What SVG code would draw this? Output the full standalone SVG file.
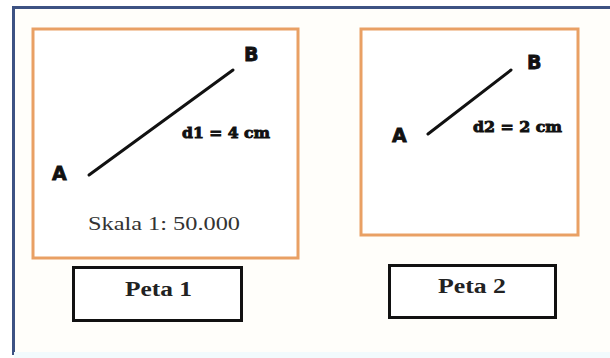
<svg xmlns="http://www.w3.org/2000/svg" width="610" height="358" viewBox="0 0 610 358">
<style>
.map{fill:#ffffff;stroke:#e9a064;stroke-width:3}
.lbl{fill:#ffffff;stroke:#111111;stroke-width:3}
.seg{stroke:#111111;stroke-width:3;stroke-linecap:round}
.pt{font-family:"DejaVu Sans","Liberation Sans",sans-serif;font-weight:bold;font-size:19px;fill:#111;stroke:#111;stroke-width:0.8}
.dist{font-family:"DejaVu Serif","Liberation Serif",serif;font-weight:900;font-size:15px;fill:#111;stroke:#111;stroke-width:0.9}
.sk{font-family:"Liberation Serif","DejaVu Serif",serif;font-size:19px;fill:#333}
.pn{font-family:"Liberation Serif","DejaVu Serif",serif;font-weight:bold;font-size:20px;fill:#222}
</style>
<rect x="0" y="0" width="610" height="358" fill="#ffffff"/>
<rect x="13.5" y="7.5" width="620" height="346" fill="#fffefa" stroke="#3d5283" stroke-width="3"/>
<rect x="14" y="352" width="596" height="6" fill="#f2fbfd"/>
<g id="map1">
<rect class="map" x="33" y="29" width="265" height="229"/>
<line class="seg" x1="89" y1="175" x2="233" y2="70"/>
<text class="pt" x="52" y="180">A</text>
<text class="pt" x="244" y="61">B</text>
<text class="dist" x="182" y="138" textLength="88" lengthAdjust="spacingAndGlyphs">d1 = 4 cm</text>
<text class="sk" x="88" y="230" textLength="152" lengthAdjust="spacingAndGlyphs">Skala 1: 50.000</text>
</g>
<g id="map2">
<rect class="map" x="361" y="29" width="217" height="206"/>
<line class="seg" x1="428" y1="134" x2="511" y2="70"/>
<text class="pt" x="392" y="142">A</text>
<text class="pt" x="527" y="69">B</text>
<text class="dist" x="473" y="132" textLength="89" lengthAdjust="spacingAndGlyphs">d2 = 2 cm</text>
</g>
<g id="peta1">
<rect class="lbl" x="73.5" y="267.5" width="168" height="53"/>
<text class="pn" x="125" y="296" textLength="67" lengthAdjust="spacingAndGlyphs">Peta 1</text>
</g>
<g id="peta2">
<rect class="lbl" x="389.5" y="265.5" width="166" height="52"/>
<text class="pn" x="438" y="293" textLength="68" lengthAdjust="spacingAndGlyphs">Peta 2</text>
</g>
<g id="connectors"></g>
</svg>
